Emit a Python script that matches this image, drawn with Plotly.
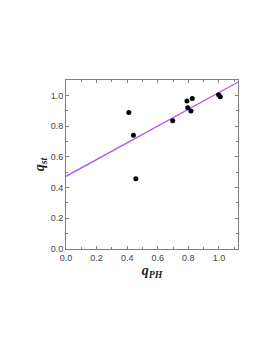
import plotly.graph_objects as go

q_ph = [0.411, 0.441, 0.457, 0.698, 0.791, 0.796, 0.817, 0.826, 0.998, 1.009]
q_st = [0.889, 0.740, 0.458, 0.835, 0.963, 0.920, 0.898, 0.980, 1.004, 0.991]
fit_x = [0.0, 1.13]
fit_intercept = 0.473
fit_slope = 0.545
fit_y = [fit_intercept + fit_slope * x for x in fit_x]

fig = go.Figure()
fig.add_trace(go.Scatter(x=fit_x, y=fit_y, mode="lines",
                         line=dict(color="#b44cf5", width=1.3), hoverinfo="skip"))
fig.add_trace(go.Scatter(x=q_ph, y=q_st, mode="markers",
                         marker=dict(color="black", size=5)))

axis_common = dict(
    showgrid=False, zeroline=False, showline=True, linecolor="#7f7f7f", linewidth=1,
    mirror="allticks", ticks="inside", ticklen=3, tickcolor="#7f7f7f",
    tickfont=dict(family="Liberation Sans, Arial", size=9, color="#444444"),
    dtick=0.2, tick0=0, tickformat=".1f",
    minor=dict(ticks="inside", ticklen=2, dtick=0.1, tickcolor="#7f7f7f"),
)

fig.update_layout(
    width=273, height=353,
    margin=dict(l=58, r=43, t=72, b=112),
    paper_bgcolor="white", plot_bgcolor="white",
    showlegend=False,
    xaxis=dict(range=[0, 1.125], title=dict(
        text="<b><i>q</i></b><sub><b><i>PH</i></b></sub>",
        font=dict(family="Liberation Serif, Times New Roman", size=14, color="#222"),
        standoff=0), **axis_common),
    yaxis=dict(range=[0, 1.1], title=dict(
        text="<b><i>q</i></b><sub><b><i>st</i></b></sub>",
        font=dict(family="Liberation Serif, Times New Roman", size=14, color="#222"),
        standoff=2), **axis_common),
)

fig.write_html("out.html")
